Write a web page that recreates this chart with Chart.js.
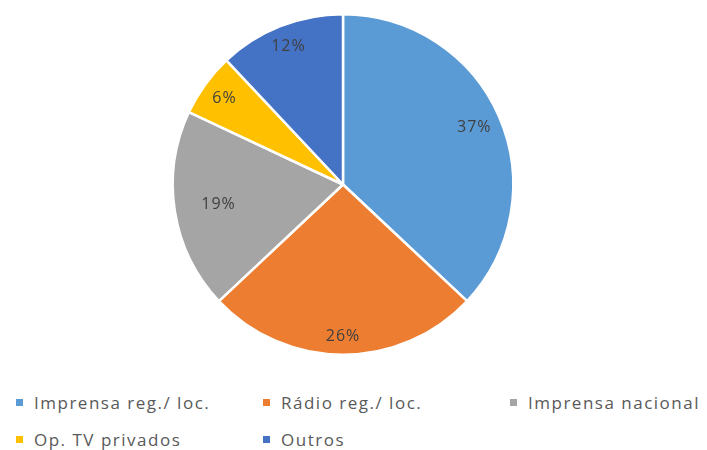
<!DOCTYPE html>
<html>
<head>
<meta charset="utf-8">
<script src="https://cdn.jsdelivr.net/npm/chart.js@4"></script>
<style>
  html, body { margin: 0; padding: 0; background: #fff; }
  #wrap { position: relative; width: 707px; height: 450px; overflow: hidden; }
  #c { position: absolute; left: 0; top: 0; }
  .lg { position: absolute; font-family: "Open Sans", sans-serif; font-size: 17px; color: #595959; white-space: nowrap; line-height: 22px; letter-spacing: 1.5px; }
  .lg i { display: inline-block; width: 7px; height: 7px; margin-right: 11px; vertical-align: 3px; }
</style>
</head>
<body>
<div id="wrap">
  <canvas id="c" width="707" height="370"></canvas>
  <div id="legend"></div>
</div>
<script>
const categories = ["Imprensa reg./ loc.", "Rádio reg./ loc.", "Imprensa nacional", "Op. TV privados", "Outros"];
const values = [37, 26, 19, 6, 12];
const colors = ["#5B9BD5", "#ED7D31", "#A5A5A5", "#FFC000", "#4472C4"];

const labelPlugin = {
  id: 'sliceLabels',
  afterDatasetsDraw(chart, args, opts) {
    const ctx = chart.ctx;
    const meta = chart.getDatasetMeta(0);
    const total = values.reduce((a, b) => a + b, 0);
    ctx.save();
    ctx.font = '16px "Open Sans", sans-serif';
    if ('letterSpacing' in ctx) ctx.letterSpacing = '1px';
    ctx.fillStyle = '#404040';
    ctx.textAlign = 'center';
    ctx.textBaseline = 'middle';
    meta.data.forEach((arc, i) => {
      const p = arc.getProps(['x', 'y', 'startAngle', 'endAngle', 'outerRadius'], true);
      const mid = (p.startAngle + p.endAngle) / 2;
      const f = opts.radial[i];
      const r = p.outerRadius * f;
      const x = p.x + Math.cos(mid) * r;
      const y = p.y + Math.sin(mid) * r;
      ctx.fillText(Math.round(values[i] / total * 100) + '%', x, y);
    });
    ctx.restore();
  }
};

new Chart(document.getElementById('c'), {
  type: 'pie',
  data: {
    labels: categories,
    datasets: [{
      data: values,
      backgroundColor: colors,
      borderColor: '#ffffff',
      borderWidth: 2.5
    }]
  },
  options: {
    responsive: false,
    animation: false,
    layout: { padding: { top: 13, bottom: 14, left: 0, right: 21 } },
    plugins: {
      legend: { display: false },
      tooltip: { enabled: false },
      sliceLabels: { radial: [0.84, 0.89, 0.74, 0.86, 0.87] }
    }
  },
  plugins: [labelPlugin]
});

// HTML legend in Excel-like grid
const legendPos = [[16, 392], [263, 392], [510, 392], [16, 429], [263, 429]];
const lg = document.getElementById('legend');
categories.forEach((c, i) => {
  const d = document.createElement('div');
  d.className = 'lg';
  d.style.left = legendPos[i][0] + 'px';
  d.style.top = legendPos[i][1] + 'px';
  d.innerHTML = '<i style="background:' + colors[i] + '"></i>' + c;
  lg.appendChild(d);
});
</script>
</body>
</html>
